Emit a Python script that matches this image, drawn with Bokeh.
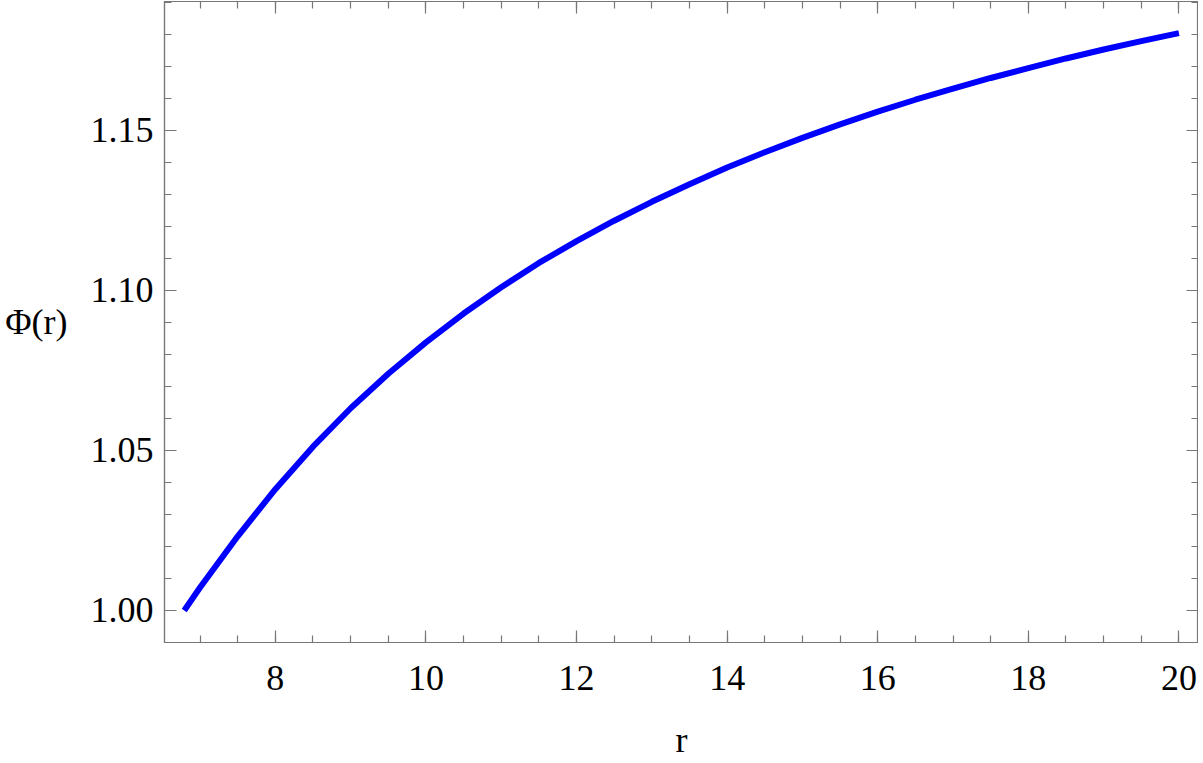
from bokeh.plotting import figure
from bokeh.models import LinearAxis, FixedTicker, PrintfTickFormatter, Range1d, CustomJSTickFormatter
from bokeh.embed import file_html
from bokeh.resources import INLINE

# Data
r_vals = [6.79, 7.0, 7.5, 8.0, 8.5, 9.0, 9.5, 10.0, 10.5, 11.0, 11.5, 12.0, 12.5,
          13.0, 13.5, 14.0, 14.5, 15.0, 15.5, 16.0, 16.5, 17.0, 17.5, 18.0, 18.5,
          19.0, 19.5, 20.0]
phi_vals = [1.0000, 1.0072, 1.0232, 1.0379, 1.0512, 1.0632, 1.0740, 1.0838, 1.0928,
            1.1010, 1.1086, 1.1154, 1.1218, 1.1277, 1.1332, 1.1384, 1.1432, 1.1477,
            1.1519, 1.1559, 1.1596, 1.1631, 1.1664, 1.1695, 1.1725, 1.1753, 1.1779,
            1.1804]
x_major = [8, 10, 12, 14, 16, 18, 20]
y_major = [1.00, 1.05, 1.10, 1.15]
x_minor = [6.5 + 0.5 * i for i in range(28)]
y_minor = [0.99 + 0.01 * i for i in range(21)]

FONT = "Liberation Serif"
GRAY = "#777777"

p = figure(frame_width=1034, frame_height=641,
           x_range=Range1d(6.528, 20.26), y_range=Range1d(0.99, 1.1903),
           output_backend="svg", toolbar_location=None,
           min_border_left=164, min_border_right=0, min_border_top=1, min_border_bottom=107)
p.xgrid.visible = False
p.ygrid.visible = False
p.outline_line_color = GRAY
p.outline_line_width = 1.2
p.background_fill_color = None
p.border_fill_color = "white"

p.line(r_vals, phi_vals, line_color="#0000ff", line_width=6, line_cap="butt")

def style(ax, labels=True):
    ax.level = "overlay"
    ax.axis_line_color = GRAY
    ax.axis_line_width = 1.2
    ax.major_tick_line_color = GRAY
    ax.minor_tick_line_color = GRAY
    ax.major_tick_in = 12
    ax.major_tick_out = 0
    ax.minor_tick_in = 7
    ax.minor_tick_out = 0
    ax.major_tick_line_width = 1.2
    ax.minor_tick_line_width = 1.2
    if labels:
        ax.major_label_text_font = FONT
        ax.major_label_text_font_size = "36px"
        ax.major_label_text_color = "black"
        ax.axis_label_text_font = FONT
        ax.axis_label_text_font_size = "36px"
        ax.axis_label_text_font_style = "normal"
        ax.axis_label_text_color = "black"
    else:
        ax.formatter = CustomJSTickFormatter(code="return ''")
        ax.major_label_text_font_size = "1px"
        ax.major_label_standoff = 0

xa = p.xaxis[0]
xa.ticker = FixedTicker(ticks=x_major, minor_ticks=x_minor)
style(xa)
xa.major_label_standoff = 23
xa.axis_label = "r"
xa.axis_label_standoff = 27

ya = p.yaxis[0]
ya.ticker = FixedTicker(ticks=y_major, minor_ticks=y_minor)
ya.formatter = PrintfTickFormatter(format="%.2f")
style(ya)
ya.major_label_standoff = 11
ya.axis_label = "Φ(r)"
ya.axis_label_orientation = "horizontal"
ya.axis_label_standoff = 20

top = LinearAxis(ticker=FixedTicker(ticks=x_major, minor_ticks=x_minor))
style(top, labels=False)
p.add_layout(top, "above")
right = LinearAxis(ticker=FixedTicker(ticks=y_major, minor_ticks=y_minor))
style(right, labels=False)
p.add_layout(right, "right")

open("out.html", "w").write(file_html(p, INLINE))
